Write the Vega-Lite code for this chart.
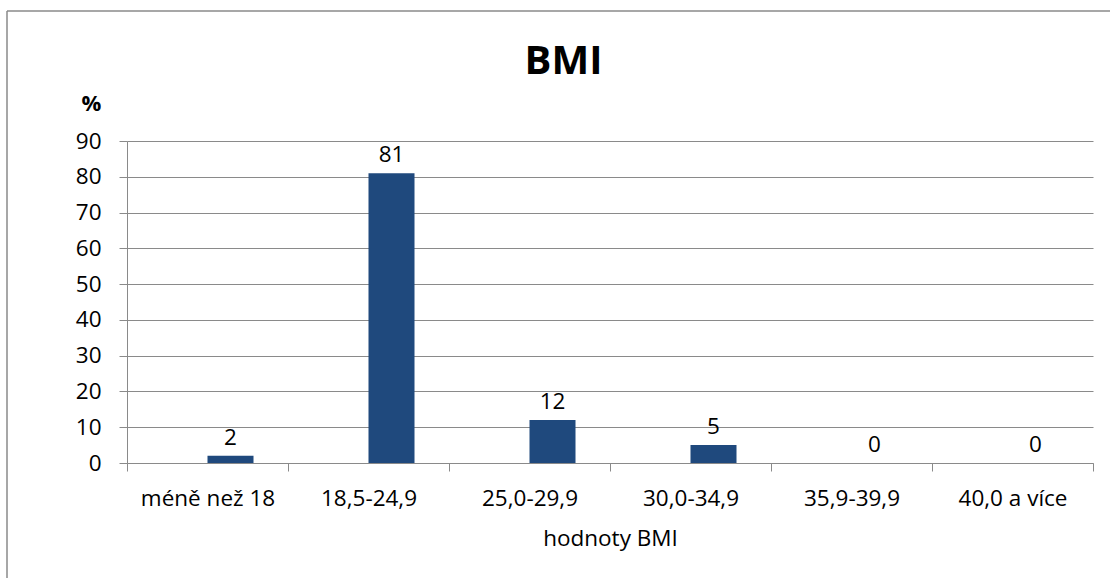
{
  "$schema": "https://vega.github.io/schema/vega-lite/v6.json",
  "width": 1103,
  "height": 567,
  "autosize": {"type": "none"},
  "padding": {"left": 7, "top": 11, "right": 0, "bottom": 0},
  "background": "white",
  "config": {
    "font": "Open Sans",
    "view": {"stroke": "#8a8a8a", "strokeWidth": 1.5, "strokeDash": [1103, 1670, 567, 0]},
    "axis": {"labelFont": "Open Sans", "titleFont": "Open Sans"}
  },
  "title": {
    "text": "BMI",
    "font": "Open Sans",
    "fontSize": 40,
    "fontWeight": "bold",
    "color": "black",
    "anchor": "middle",
    "baseline": "alphabetic",
    "dx": 5,
    "offset": -103
  },
  "data": {
    "values": [
      {"kategorie": "méně než 18", "procenta": 2},
      {"kategorie": "18,5-24,9", "procenta": 81},
      {"kategorie": "25,0-29,9", "procenta": 12},
      {"kategorie": "30,0-34,9", "procenta": 5},
      {"kategorie": "35,9-39,9", "procenta": 0},
      {"kategorie": "40,0 a více", "procenta": 0}
    ]
  },
  "encoding": {
    "x": {
      "field": "kategorie",
      "type": "nominal",
      "sort": null,
      "scale": {"range": [120, 1086], "paddingInner": 0, "paddingOuter": 0},
      "axis": {
        "title": "hodnoty BMI",
        "titleFontSize": 22.5,
        "titleFontWeight": "normal",
        "titleColor": "black",
        "titleBaseline": "alphabetic",
        "titleY": 82,
        "labelAngle": 0,
        "labelFontSize": 22.5,
        "labelColor": "black",
        "labelBaseline": "alphabetic",
        "labelPadding": 34,
        "tickBand": "extent",
        "tickSize": 8,
        "tickColor": "#8a8a8a",
        "domainColor": "#8a8a8a",
        "grid": false,
        "offset": -115
      }
    },
    "xOffset": {
      "datum": "b",
      "scale": {"domain": ["a", "b"], "paddingInner": 0, "paddingOuter": 0.75}
    },
    "y": {
      "field": "procenta",
      "type": "quantitative",
      "scale": {"domain": [0, 90], "range": [452, 130], "nice": false},
      "axis": {
        "values": [0, 10, 20, 30, 40, 50, 60, 70, 80, 90],
        "title": "%",
        "titleAngle": 0,
        "titleFontSize": 22,
        "titleFontWeight": "bold",
        "titleColor": "black",
        "titleAlign": "center",
        "titleBaseline": "middle",
        "titleX": -36,
        "titleY": 92,
        "labelFontSize": 22.5,
        "labelColor": "black",
        "labelPadding": 18,
        "tickSize": 8,
        "tickColor": "#8a8a8a",
        "domainColor": "#8a8a8a",
        "gridColor": "#8a8a8a",
        "grid": true,
        "offset": -120
      }
    }
  },
  "layer": [
    {"mark": {"type": "bar", "color": "#1F497D"}},
    {
      "mark": {"type": "text", "fontSize": 22.5, "color": "black", "baseline": "alphabetic", "dy": -11},
      "encoding": {"text": {"field": "procenta", "type": "quantitative"}}
    }
  ]
}
